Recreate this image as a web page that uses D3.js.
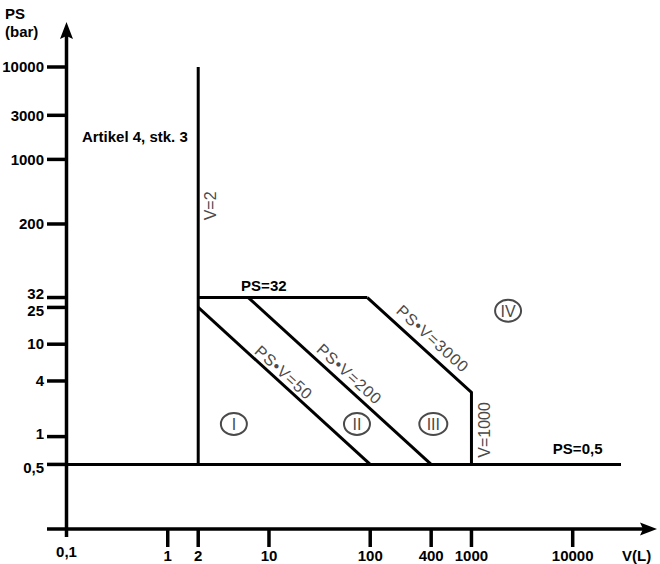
<!DOCTYPE html>
<html>
<head>
<meta charset="utf-8">
<script src="https://cdn.jsdelivr.net/npm/d3@7"></script>
<style>
  body { margin: 0; background: #fff; }
  text { font-family: "Liberation Sans", Arial, sans-serif; }
</style>
</head>
<body>
<div id="vis"></div>
<script>

// tick values and labels
var xTicks = [0.1, 1, 2, 10, 100, 400, 1000, 10000];
var xTickLabels = ["0,1", "1", "2", "10", "100", "400", "1000", "10000"];
var yTicks = [0.5, 1, 4, 10, 25, 32, 200, 1000, 3000, 10000];
var yTickLabels = ["0,5", "1", "4", "10", "25", "32", "200", "1000", "3000", "10000"];

// boundary lines, as [V, PS] points
var lineV2 = [[2, 0.5], [2, 10000]];
var linePS05 = [[0.1, 0.5], [30000, 0.5]];
var linePS32 = [[2, 32], [93.75, 32]];
var linePV50 = [[2, 25], [100, 0.5]];
var linePV200 = [[6.25, 32], [400, 0.5]];
var linePV3000 = [[93.75, 32], [1000, 3], [1000, 0.5]];

// category markers
var categories = ["I", "II", "III", "IV"];
var categoryV = [4.5, 74, 420, 2300];
var categoryPS = [1.37, 1.37, 1.37, 23];

// diagonal labels: text, line, position along the line, offset
var diagLabels = ["PS\u2022V=50", "PS\u2022V=200", "PS\u2022V=3000"];
var diagLines = [linePV50, linePV200, linePV3000.slice(0, 2)];
var diagT = [0.46, 0.51, 0.54];
var diagOffset = [-4, -6, -8];

var width = 660, height = 564;

var x = d3.scaleLog().domain([0.1, 10000]).range([66.5, 572.7]);
var y = d3.scaleLog().domain([0.1, 10000]).range([529, 67]);

var svg = d3.select("#vis").append("svg")
    .attr("width", width)
    .attr("height", height);

var line = d3.line()
    .x(function(d) { return x(d[0]); })
    .y(function(d) { return y(d[1]); });

var x0 = x(0.1), y0 = y(0.1);

// axes
svg.append("line")
    .attr("x1", 47).attr("x2", 645)
    .attr("y1", y0).attr("y2", y0)
    .attr("stroke", "#000").attr("stroke-width", 3.5);
svg.append("path")
    .attr("d", "M657," + y0 + "L640," + (y0 - 6.5) + "L643," + y0 + "L640," + (y0 + 6.5) + "Z")
    .attr("fill", "#000");

svg.append("line")
    .attr("x1", x0).attr("x2", x0)
    .attr("y1", 537).attr("y2", 34)
    .attr("stroke", "#000").attr("stroke-width", 3.5);
svg.append("path")
    .attr("d", "M" + x0 + ",22L" + (x0 - 6.5) + ",39L" + x0 + ",36L" + (x0 + 6.5) + ",39Z")
    .attr("fill", "#000");

// x ticks
svg.selectAll(".xtick")
    .data(xTicks.slice(1))
  .enter().append("line")
    .attr("x1", function(d) { return x(d); })
    .attr("x2", function(d) { return x(d); })
    .attr("y1", y0).attr("y2", y0 + 18)
    .attr("stroke", "#000").attr("stroke-width", 3.5);

svg.selectAll(".xlabel")
    .data(xTicks)
  .enter().append("text")
    .attr("x", function(d) { return x(d); })
    .attr("y", function(d, i) { return i === 0 ? 557 : 561; })
    .attr("text-anchor", "middle")
    .attr("font-size", "15px")
    .attr("font-weight", "bold")
    .text(function(d, i) { return xTickLabels[i]; });

// y ticks
svg.selectAll(".ytick")
    .data(yTicks)
  .enter().append("line")
    .attr("x1", 47).attr("x2", x0)
    .attr("y1", function(d) { return y(d); })
    .attr("y2", function(d) { return y(d); })
    .attr("stroke", "#000").attr("stroke-width", 3.5);

// 32 and 25 sit close together, so their labels are pushed apart
svg.selectAll(".ylabel")
    .data(yTicks)
  .enter().append("text")
    .attr("x", 44)
    .attr("y", function(d) {
      var shift = d === 32 ? -4 : d === 25 ? 3 : d === 0.5 ? 3 : d === 1 ? -3 : 0;
      return y(d) + shift;
    })
    .attr("dy", "0.35em")
    .attr("text-anchor", "end")
    .attr("font-size", "15px")
    .attr("font-weight", "bold")
    .text(function(d, i) { return yTickLabels[i]; });

// axis titles
svg.append("text")
    .attr("x", 5).attr("y", 19)
    .attr("font-size", "15px").attr("font-weight", "bold")
    .text("PS");
svg.append("text")
    .attr("x", 5).attr("y", 37)
    .attr("font-size", "15px").attr("font-weight", "bold")
    .text("(bar)");
svg.append("text")
    .attr("x", 622).attr("y", 561)
    .attr("font-size", "15px").attr("font-weight", "bold")
    .text("V(L)");

// boundary lines
[lineV2, linePS05, linePS32, linePV50, linePV200, linePV3000].forEach(function(pts) {
  svg.append("path")
      .datum(pts)
      .attr("d", line)
      .attr("fill", "none")
      .attr("stroke", "#000")
      .attr("stroke-width", 3)
      .attr("stroke-linejoin", "miter");
});

// diagonal labels
diagLabels.forEach(function(lbl, i) {
  var p = diagLines[i];
  var ax = x(p[0][0]), ay = y(p[0][1]), bx = x(p[1][0]), by = y(p[1][1]);
  var ang = Math.atan2(by - ay, bx - ax) * 180 / Math.PI;
  var cx = ax + (bx - ax) * diagT[i], cy = ay + (by - ay) * diagT[i];
  svg.append("text")
      .attr("transform", "translate(" + cx + "," + cy + ")rotate(" + ang + ")")
      .attr("y", diagOffset[i])
      .attr("text-anchor", "middle")
      .attr("font-size", "16px")
      .attr("letter-spacing", "1px")
      .attr("fill", "#4a4a4a")
      .text(lbl);
});

// vertical labels
svg.append("text")
    .attr("transform", "translate(" + (x(2) + 18) + "," + y(314) + ")rotate(-90)")
    .attr("text-anchor", "middle")
    .attr("font-size", "16px")
    .attr("fill", "#4a4a4a")
    .text("V=2");
svg.append("text")
    .attr("transform", "translate(" + (x(1000) + 19) + "," + y(1.18) + ")rotate(-90)")
    .attr("text-anchor", "middle")
    .attr("font-size", "16px")
    .attr("fill", "#4a4a4a")
    .text("V=1000");

// bold annotations
svg.append("text")
    .attr("x", x(8.9)).attr("y", y(32) - 7)
    .attr("text-anchor", "middle")
    .attr("font-size", "15px").attr("font-weight", "bold")
    .text("PS=32");
svg.append("text")
    .attr("x", x(11200)).attr("y", y(0.5) - 10)
    .attr("text-anchor", "middle")
    .attr("font-size", "15px").attr("font-weight", "bold")
    .text("PS=0,5");
svg.append("text")
    .attr("x", x(0.142)).attr("y", y(1550))
    .attr("font-size", "15px").attr("font-weight", "bold")
    .text("Artikel 4, stk. 3");

// category circles
var cat = svg.selectAll(".cat")
    .data(categories)
  .enter().append("g")
    .attr("transform", function(d, i) {
      return "translate(" + x(categoryV[i]) + "," + y(categoryPS[i]) + ")";
    });
cat.append("ellipse")
    .attr("rx", function(d) { return d.length > 2 ? 14 : 13; })
    .attr("ry", 11)
    .attr("fill", "none")
    .attr("stroke", "#4a4a4a")
    .attr("stroke-width", 2);
cat.append("text")
    .attr("text-anchor", "middle")
    .attr("dy", "0.36em")
    .attr("font-size", "16px")
    .attr("fill", "#4a4a4a")
    .text(function(d) { return d; });

</script>
</body>
</html>
